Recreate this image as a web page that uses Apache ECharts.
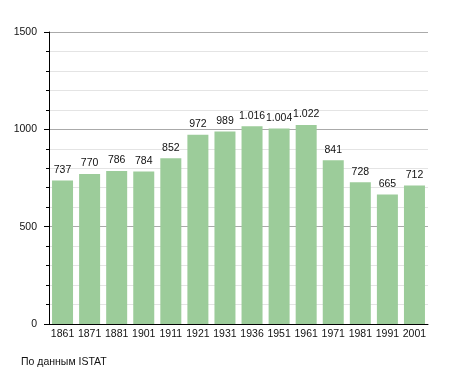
<!DOCTYPE html>
<html>
<head>
<meta charset="utf-8">
<script src="https://cdn.jsdelivr.net/npm/echarts@6/dist/echarts.min.js"></script>
<style>html,body{margin:0;padding:0;background:#fff;}#c{width:455px;height:373px;}</style>
</head>
<body>
<div id="c"></div>
<script>
var categories = ['1861','1871','1881','1901','1911','1921','1931','1936','1951','1961','1971','1981','1991','2001'];
var population = [737,770,786,784,852,972,989,1016,1004,1022,841,728,665,712];
var yTicks = [0,500,1000,1500];
var sourceText = 'По данным ISTAT';

function fmt(v){
  var s = String(v);
  return s.replace(/\B(?=(\d{3})+(?!\d))/g, '.');
}

var chart = echarts.init(document.getElementById('c'), null, {renderer:'canvas'});
chart.setOption({
  animation:false,
  backgroundColor:'#fff',
  textStyle:{fontFamily:'Liberation Sans, Arial, sans-serif'},
  graphic:[{type:'text', left:21, top:357, style:{text:sourceText, fill:'#111', font:'10.5px "Liberation Sans", Arial, sans-serif'}}],
  grid:{left:49, right:27, top:32, bottom:49, containLabel:false},
  xAxis:{
    type:'category', data:categories, boundaryGap:true,
    axisLine:{lineStyle:{color:'#000', width:1}},
    axisTick:{show:false},
    axisLabel:{color:'#111', fontSize:10.5, margin:5, interval:0}
  },
  yAxis:{
    type:'value', min:yTicks[0], max:yTicks[yTicks.length-1], interval:500,
    axisLine:{show:true, lineStyle:{color:'#000'}},
    axisTick:{show:true, length:5, lineStyle:{color:'#000'}},
    minorTick:{show:true, splitNumber:5, length:3, lineStyle:{color:'#000'}},
    splitLine:{show:true, lineStyle:{color:'#aaa'}},
    minorSplitLine:{show:true, lineStyle:{color:'#e4e4e4'}},
    axisLabel:{color:'#111', fontSize:10.5, margin:12, formatter:function(v){return String(v);}}
  },
  series:[{
    type:'bar', data:population, barWidth:21,
    itemStyle:{color:'#9ccc9a'},
    label:{show:true, position:'top', distance:5, color:'#111', fontSize:10.5, formatter:function(p){return fmt(p.value);}}
  }]
});
</script>
</body>
</html>
